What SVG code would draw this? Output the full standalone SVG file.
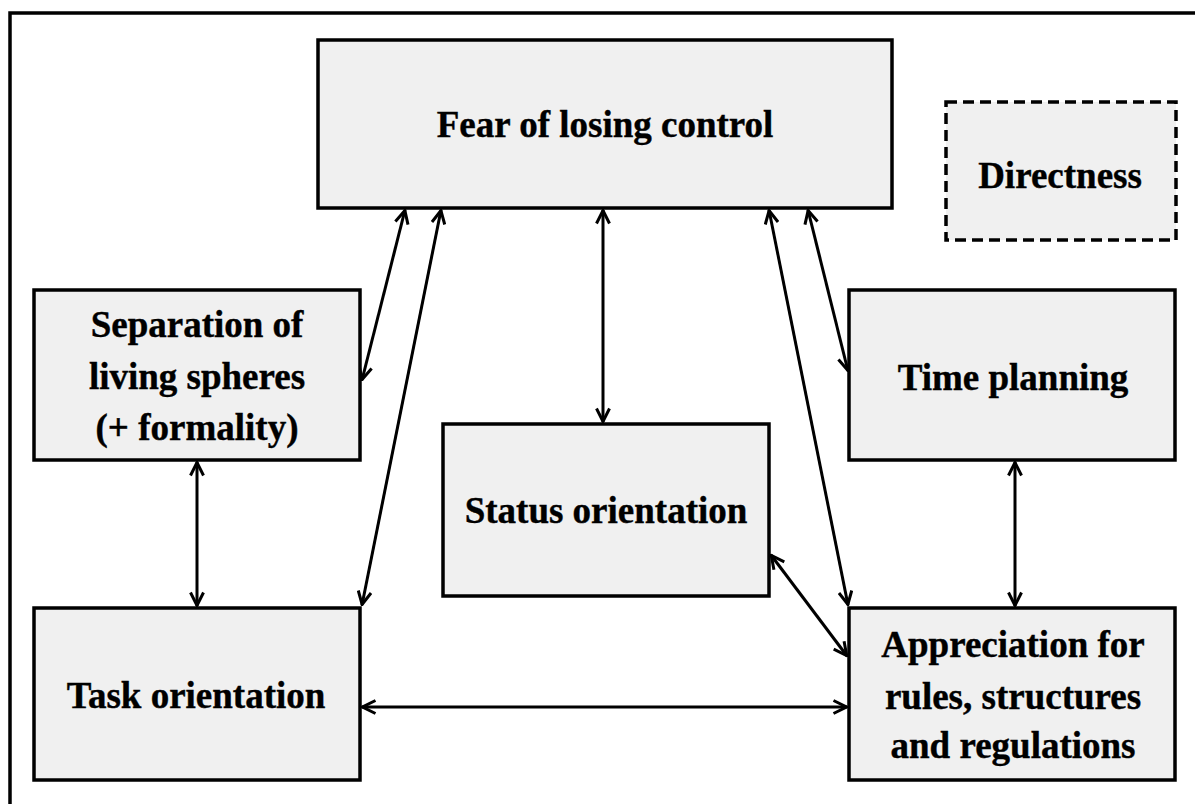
<svg xmlns="http://www.w3.org/2000/svg" width="1195" height="804" viewBox="0 0 1195 804">
<defs>
<style>
.box{fill:#f0f0f0;stroke:#000;stroke-width:3.5}
.dash{stroke-dasharray:11 6}
.t{font-family:"Liberation Serif","Times New Roman",serif;font-weight:bold;font-size:37px;fill:#000;text-anchor:middle;stroke:#000;stroke-width:0.4}
.c{fill:none;stroke:#000;stroke-width:3}
</style>
<marker id="ah" viewBox="0 0 16 16" refX="15" refY="8" markerWidth="16" markerHeight="16" markerUnits="userSpaceOnUse" orient="auto-start-reverse">
<path d="M1.5,1.5 L14.5,8 L1.5,14.5" fill="none" stroke="#000" stroke-width="3"/>
</marker>
</defs>
<rect width="1195" height="804" fill="#fff"/>
<path d="M10,804 V13 H1195" fill="none" stroke="#000" stroke-width="3.5"/>
<g id="connectors">
<line class="c" x1="405" y1="210" x2="362" y2="380" marker-start="url(#ah)" marker-end="url(#ah)"/>
<line class="c" x1="441" y1="210" x2="362" y2="605" marker-start="url(#ah)" marker-end="url(#ah)"/>
<line class="c" x1="603" y1="210" x2="603" y2="422" marker-start="url(#ah)" marker-end="url(#ah)"/>
<line class="c" x1="769" y1="210" x2="848" y2="605" marker-start="url(#ah)" marker-end="url(#ah)"/>
<line class="c" x1="808" y1="210" x2="848" y2="371" marker-start="url(#ah)" marker-end="url(#ah)"/>
<line class="c" x1="197" y1="462" x2="197" y2="606" marker-start="url(#ah)" marker-end="url(#ah)"/>
<line class="c" x1="1015" y1="462" x2="1015" y2="606" marker-start="url(#ah)" marker-end="url(#ah)"/>
<line class="c" x1="771" y1="555" x2="847" y2="656" marker-start="url(#ah)" marker-end="url(#ah)"/>
<line class="c" x1="362" y1="707" x2="847" y2="707" marker-start="url(#ah)" marker-end="url(#ah)"/>
</g>
<g id="fear">
<rect class="box" x="318" y="40" width="574" height="168"/>
<text class="t" x="605" y="137">Fear of losing control</text>
</g>
<g id="directness">
<rect class="box dash" x="946" y="102" width="230" height="138"/>
<text class="t" x="1060" y="188">Directness</text>
</g>
<g id="separation">
<rect class="box" x="34" y="290" width="326" height="170"/>
<text class="t" x="197" y="337">Separation of</text>
<text class="t" x="197" y="389">living spheres</text>
<text class="t" x="197" y="440">(+ formality)</text>
</g>
<g id="time">
<rect class="box" x="849" y="290" width="326" height="170"/>
<text class="t" x="1013" y="390">Time planning</text>
</g>
<g id="status">
<rect class="box" x="443" y="424" width="326" height="172"/>
<text class="t" x="606" y="523">Status orientation</text>
</g>
<g id="task">
<rect class="box" x="34" y="608" width="326" height="172"/>
<text class="t" x="196" y="708">Task orientation</text>
</g>
<g id="appreciation">
<rect class="box" x="849" y="608" width="326" height="172"/>
<text class="t" x="1013" y="657">Appreciation for</text>
<text class="t" x="1013" y="709">rules, structures</text>
<text class="t" x="1013" y="758">and regulations</text>
</g>
</svg>
